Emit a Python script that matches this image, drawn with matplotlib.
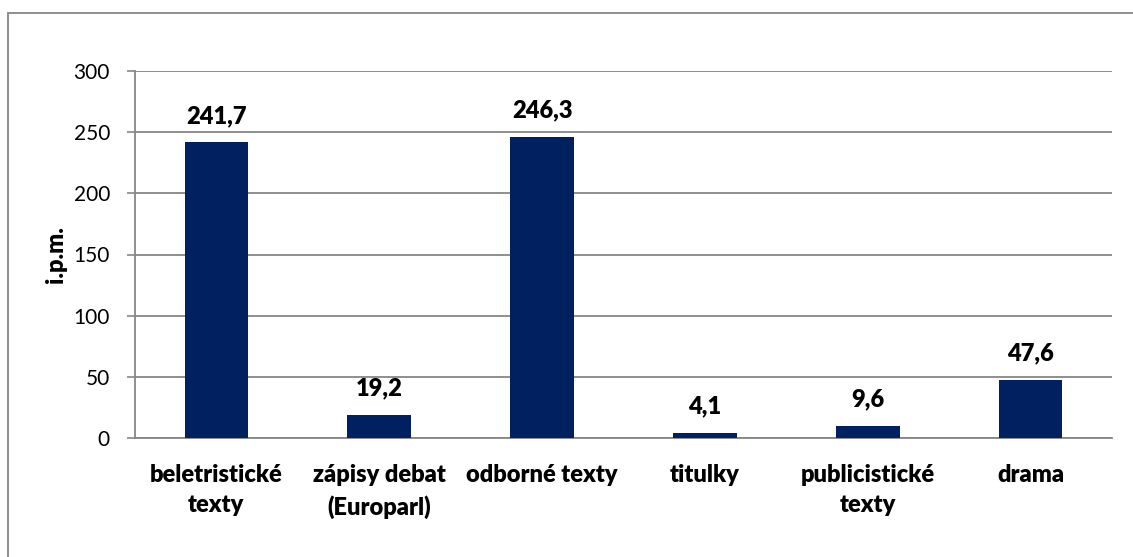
import matplotlib.pyplot as plt
from matplotlib.patches import Rectangle

# Kategorie a hodnoty (i.p.m.)
kategorie = ["beletristické\ntexty", "zápisy debat\n(Europarl)", "odborné texty",
             "titulky", "publicistické\ntexty", "drama"]
hodnoty = [241.7, 19.2, 246.3, 4.1, 9.6, 47.6]
y_ticks = [0, 50, 100, 150, 200, 250, 300]

plt.rcParams["font.family"] = ["Lato", "DejaVu Sans"]
seda = "#868686"
modra = "#002060"

fig = plt.figure(figsize=(11.33, 5.57), dpi=100)
ax = fig.add_axes([135 / 1133, 1 - 438 / 557, 977 / 1133, 367 / 557])

x = range(len(kategorie))
ax.bar(x, hodnoty, width=0.39, color=modra, zorder=3)

for xi, v in zip(x, hodnoty):
    ax.annotate(f"{v:.1f}".replace(".", ","), (xi, v), xytext=(0, 14),
                textcoords="offset points", ha="center", va="baseline",
                fontsize=17, fontweight="heavy")

ax.set_xlim(-0.5, len(kategorie) - 0.5)
ax.set_ylim(0, 300)
ax.set_yticks(y_ticks)
ax.set_yticklabels([str(t) for t in y_ticks], fontsize=15)
ax.set_xticks(list(x))
ax.set_xticklabels(kategorie, fontsize=17, fontweight="heavy", linespacing=1.45)
ax.tick_params(axis="x", length=0, pad=19)
ax.tick_params(axis="y", length=6, width=1.2, color=seda, pad=12)

ax.yaxis.grid(True, color=seda, linewidth=1.3, zorder=0)
ax.set_axisbelow(True)
for s in ["top", "right"]:
    ax.spines[s].set_visible(False)
for s in ["left", "bottom"]:
    ax.spines[s].set_color(seda)
    ax.spines[s].set_linewidth(1.3)

ax.set_ylabel("i.p.m.", fontsize=17, fontweight="heavy")
ax.yaxis.set_label_coords(-68 / 977, 0.5)

# ramecek grafu
fig.patches.append(Rectangle((8 / 1133, -0.1), 1.2, 1.1 - 13 / 557,
                             transform=fig.transFigure, fill=False,
                             edgecolor=seda, linewidth=1.3))

fig.savefig("out.png", dpi=100)
